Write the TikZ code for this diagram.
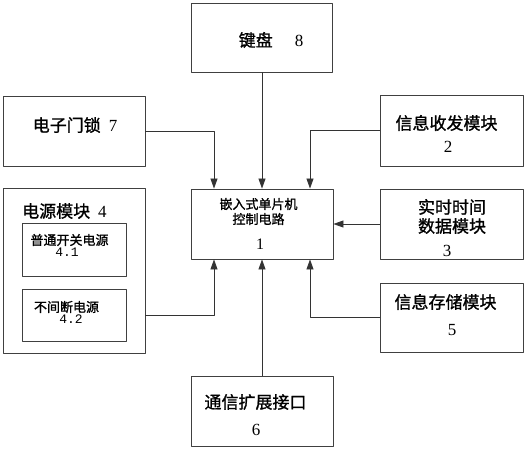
\documentclass[tikz,border=0pt]{standalone}
\usepackage{fontspec}
\setmainfont{Liberation Serif}
\setmonofont{Liberation Mono}
\newfontfamily\cjk[FakeBold=1.2]{Noto Sans CJK SC}
\usetikzlibrary{arrows.meta,positioning,calc}

\begin{document}
\begin{tikzpicture}[x=1pt, y=-1pt, line join=bevel,
  box/.style={draw=black!75, line width=0.9pt, inner sep=0pt},
  big/.style={font=\fontsize{17}{20}\selectfont\cjk, inner sep=0pt},
  small/.style={font=\fontsize{13}{15}\selectfont\cjk, inner sep=0pt, align=center},
  link/.style={draw=black!80, line width=0.8pt, -{Triangle[length=10pt,width=7pt]}}]
\useasboundingbox (0,0) rectangle (526,450);
% boxes
\node[box, minimum width=141pt, minimum height=69pt] (keyb) at (262,37.5) {};
\node[box, minimum width=142pt, minimum height=70pt] (lock) at (74,131) {};
\node[box, minimum width=142pt, minimum height=70pt] (mcu) at (262,224) {};
\node[box, minimum width=142pt, minimum height=165pt] (power) at (74,270.5) {};
\node[box, minimum width=104pt, minimum height=53pt] (ps1) at (74,249.5) {};
\node[box, minimum width=104pt, minimum height=52pt] (ps2) at (74,315) {};
\node[box, minimum width=143pt, minimum height=71pt] (trx) at (451.5,130.5) {};
\node[box, minimum width=143pt, minimum height=70pt] (rtc) at (451.5,224) {};
\node[box, minimum width=143pt, minimum height=69pt] (store) at (451.5,317.5) {};
\node[box, minimum width=142pt, minimum height=70pt] (comm) at (262,411) {};
% texts
\node[big] (keybtxt) at (271,40) {键盘\hspace{22pt}{\rmfamily 8}};
\node[big] (locktxt) at (75,125) {电子门锁\hspace{8pt}{\rmfamily 7}};
\node[small] (mcutxt) at (258.5,211.5) {嵌入式单片机\\控制电路};
\node[big, font=\fontsize{16}{18}\selectfont\rmfamily] (mcunum) at (260,244) {1};
\node[big, anchor=west] (powertxt) at (22,211) {电源模块\hspace{8pt}{\rmfamily 4}};
\node[small] (ps1txt) at (69.5,240) {普通开关电源};
\node[small, font=\fontsize{13}{15}\selectfont\ttfamily] (ps1num) at (67,252) {4.1};
\node[small] (ps2txt) at (66.5,307) {不间断电源};
\node[small, font=\fontsize{13}{15}\selectfont\ttfamily] (ps2num) at (71,319) {4.2};
\node[big] (trxtxt) at (446.5,123) {信息收发模块};
\node[big, font=\fontsize{17}{20}\selectfont\rmfamily] (trxnum) at (448,147) {2};
\node[big, align=center, font=\fontsize{17}{19}\selectfont\cjk] (rtctxt) at (452,216.5) {实时时间\\数据模块};
\node[big, font=\fontsize{17}{20}\selectfont\rmfamily] (rtcnum) at (447,251) {3};
\node[big] (storetxt) at (445.5,302) {信息存储模块};
\node[big, font=\fontsize{17}{20}\selectfont\rmfamily] (storenum) at (452,330) {5};
\node[big] (commtxt) at (255.5,402) {通信扩展接口};
\node[big, font=\fontsize{17}{20}\selectfont\rmfamily] (commnum) at (256,430) {6};
% links
\draw[link] (keyb.south) -- (mcu.north);
\draw[link] (lock.east) -| ([xshift=-48pt]mcu.north);
\draw[link] (trx.west) -| ([xshift=48pt]mcu.north);
\draw[link] (rtc.west) -- (mcu.east);
\draw[link] (store.west) -| ([xshift=48pt]mcu.south);
\draw[link] (ps2 -| power.east) -| ([xshift=-48pt]mcu.south);
\draw[link] (comm.north) -- (mcu.south);
\end{tikzpicture}
\end{document}
